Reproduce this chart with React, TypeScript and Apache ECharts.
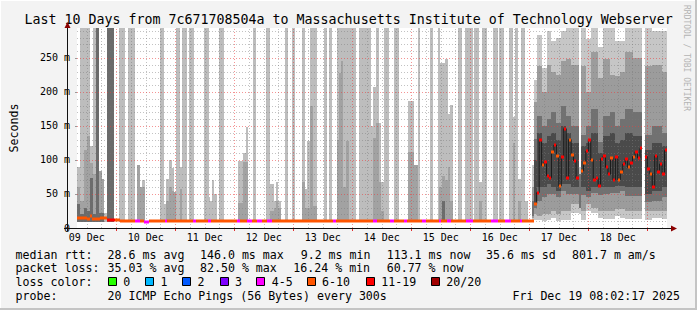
import React, { useEffect, useRef } from "react";
import * as echarts from "echarts";

// ---------------- data (hours after graph start Dec 9 08:02:17; values in ms) ----------------
const TITLE = "Last 10 Days from 7c671708504a to Massachusetts Institute of Technology Webserver";
const dayLabels = ["09 Dec", "10 Dec", "11 Dec", "12 Dec", "13 Dec", "14 Dec", "15 Dec", "16 Dec", "17 Dec", "18 Dec"];
const firstNoon = 3.962; // Dec 9 12:00 in hours after start
const firstMidnight = 15.962; // Dec 10 00:00
const yTickValues = [0, 50, 100, 150, 200, 250]; // ms
const yMaxMs = 294;

// sparse smoke, first 7.5 days: [startH, endH, topMs]
const smokeLight = [
  [0, 1.2, 90], [1.2, 5.2, 300], [5.2, 6.4, 120], [6.4, 7.6, 300], [10.8, 12.4, 22],
  [17.2, 19.6, 300], [20.8, 23.6, 300], [26.4, 27.6, 70], [33.6, 35.2, 300], [35.2, 36.4, 35],
  [36.4, 37.6, 72], [37.6, 38.8, 100], [38.8, 39.6, 88], [40.4, 42, 300], [42, 42.8, 89],
  [42.8, 44.8, 300], [45.6, 47.6, 300], [51.6, 53.6, 300], [53.6, 54, 45], [54, 54.8, 40],
  [54.8, 55.6, 70], [55.6, 56.8, 50], [57.6, 59.6, 300], [65.6, 67.6, 98], [67.6, 68.8, 110],
  [68.8, 69.6, 148], [71.6, 72.8, 300], [76.8, 78.4, 300], [78.4, 80, 64], [80, 80.8, 40],
  [80.8, 81.6, 67], [81.6, 82.8, 40], [84.8, 86, 300], [87.6, 88.8, 300], [91.6, 92.8, 300],
  [92.8, 93.6, 58], [93.6, 94.8, 128], [94.8, 97.6, 300], [100.4, 101.6, 300], [102.4, 103.6, 300],
  [105.6, 113.6, 300], [114.8, 119.6, 300], [119.6, 120.4, 150], [120.4, 121.6, 207], [121.6, 122.8, 300],
  [122.8, 123.6, 155], [123.6, 124.8, 68], [124.8, 126.8, 300], [128.8, 130.8, 300], [134.8, 137.2, 186],
  [138.8, 139.6, 300], [143.6, 144.8, 300], [146.8, 147.6, 300], [147.6, 149.6, 242], [149.6, 150.8, 249],
  [150.8, 151.6, 167], [151.6, 152.8, 181], [154.8, 156.8, 300], [158, 161.2, 300], [161.6, 163.6, 300],
  [163.6, 164.8, 67], [164.8, 166.8, 300], [169.2, 171.2, 300], [171.6, 173.6, 300], [175.6, 177.2, 300],
  [177.2, 178, 163], [178, 179.2, 300], [179.2, 180.8, 72], [180.8, 182.4, 300], [182.4, 183.6, 40],
];
const smokeMid = [
  [0, 1.2, 60], [1.2, 2.8, 40], [2.8, 4, 115], [4, 5.2, 135], [5.2, 6.4, 95], [6.4, 7.6, 80],
  [8.8, 10, 84], [10, 10.8, 72], [24.4, 25.6, 93], [25.6, 27.6, 61], [36.4, 37.6, 40], [37.6, 38.8, 60],
  [38.8, 39.6, 55], [39.6, 40.4, 53], [42, 42.8, 58], [65.6, 67.6, 37], [67.6, 69.6, 97], [78.4, 80, 25],
  [80, 80.8, 30], [80.8, 81.6, 40], [81.6, 82.8, 30], [91.6, 92.8, 67], [92.8, 94.8, 30], [94.8, 96, 180],
  [96, 97.6, 33], [105.6, 106.4, 130], [106.4, 107.2, 228], [107.2, 108, 245], [108, 109.6, 60],
  [109.6, 110.8, 128], [120.4, 121.6, 133], [121.6, 122.8, 155], [122.8, 123.6, 68], [123.6, 124.8, 25],
  [134.8, 137.2, 111], [137.2, 138.8, 92], [147.2, 148.4, 60], [148.4, 149.6, 77], [149.6, 150.8, 70],
  [150.8, 151.6, 90], [151.6, 152.8, 40], [163.6, 164.8, 40], [177.2, 178, 125], [179.2, 180.8, 40],
];
const smokeDark = [
  [0, 1.2, 35], [1.2, 2.8, 20], [2.8, 4, 30], [4, 5.2, 25], [5.2, 6.4, 73], [6.4, 7.6, 20],
  [7.6, 8.8, 300], [8.8, 10.8, 22], [12.4, 15.2, 300], [148.4, 149.6, 40],
];

// dense smoke, last 2.3 days: [startH, endH, loMs, hiMs]
const denseLight = [
  [185, 186, 10, 92], [186, 187, 12, 217], [187, 189, 12, 283], [189, 191, 10, 235], [191, 193, 12, 290],
  [193, 195, 14, 275], [195, 197, 10, 280], [197, 199, 12, 290], [199, 201, 12, 296], [201, 204, 22, 296],
  [204, 205, 20, 90], [205, 207, 12, 296], [207, 209, 25, 278], [209, 212, 22, 296], [212, 214, 14, 266],
  [214, 217, 13, 296], [217, 219, 13, 296], [219, 221, 18, 275], [221, 223, 15, 275], [223, 226, 13, 296],
  [226, 230, 13, 296], [231, 234, 12, 296], [234, 236, 14, 290], [236, 238, 14, 290], [238, 240, 13, 290],
];
const denseMid = [
  [185, 186, 14, 60], [186, 187, 20, 185], [187, 189, 18, 238], [189, 191, 20, 200], [191, 193, 20, 240],
  [193, 195, 25, 230], [195, 197, 20, 225], [197, 199, 25, 245], [199, 201, 25, 248], [201, 204, 35, 240],
  [205, 207, 25, 238], [207, 209, 35, 200], [209, 212, 30, 258], [212, 214, 25, 220],
  [214, 217, 25, 248], [217, 219, 25, 225], [219, 221, 28, 224], [221, 223, 28, 230], [223, 226, 25, 258],
  [226, 230, 25, 250], [231, 234, 25, 238], [234, 236, 25, 240], [236, 238, 25, 240], [238, 240, 25, 230],
];
const denseDark = [
  [185, 186, 18, 40], [186, 187, 30, 131], [187, 189, 40, 165], [189, 191, 45, 150], [191, 193, 50, 160],
  [193, 195, 50, 170], [195, 197, 45, 155], [197, 199, 55, 180], [199, 201, 50, 165], [201, 204, 50, 150],
  [204, 205, 30, 80], [205, 207, 48, 136], [207, 209, 45, 150], [209, 212, 52, 175], [212, 214, 48, 126],
  [214, 217, 50, 165], [217, 219, 52, 170], [219, 221, 52, 150], [221, 223, 55, 160], [223, 226, 47, 175],
  [226, 230, 47, 170], [231, 234, 38, 136], [234, 236, 40, 150], [236, 238, 40, 150], [238, 240, 45, 140],
];
const denseCore = [
  [186, 187, 35, 100], [187, 189, 60, 140], [189, 191, 60, 125], [191, 193, 65, 135], [193, 195, 60, 140],
  [195, 197, 55, 130], [197, 199, 65, 150], [199, 201, 65, 140], [201, 204, 60, 125], [205, 207, 60, 120],
  [207, 209, 55, 125], [209, 212, 60, 140], [212, 214, 60, 110], [214, 217, 60, 135], [217, 219, 60, 140],
  [219, 221, 62, 125], [221, 223, 62, 130], [223, 226, 60, 140], [226, 230, 60, 135], [231, 234, 50, 115],
  [234, 236, 55, 125], [236, 238, 55, 125], [238, 240, 60, 120],
];

// median rtt, first part as runs: [startH, endH, ms, lostPings]
const earlyMedian = [
  [0, 2, 15, 8], [2, 4, 14, 8], [4, 5.2, 13, 8], [5.2, 6, 18, 8], [6, 9.2, 13, 8], [9.2, 12.4, 14, 8],
  [12.4, 15.6, 12, 14], [15.6, 17.6, 12, 8], [17.6, 23.6, 10.5, 8], [23.6, 25.6, 10, 5], [25.6, 27.2, 10.5, 8],
  [27.2, 29.2, 9.5, 5], [29.2, 35.6, 10.5, 8], [35.6, 36.8, 10, 5], [36.8, 47.2, 10.5, 8], [47.2, 48.4, 10, 5],
  [48.4, 53.2, 10.5, 8], [53.2, 54.4, 10, 5], [54.4, 65.2, 10.5, 8], [65.2, 66.4, 10, 5], [66.4, 69.2, 10.5, 8],
  [69.2, 71.2, 10, 5], [71.2, 73.2, 10.5, 8], [73.2, 75.2, 10, 5], [75.2, 77.2, 10.5, 8], [77.2, 79.2, 10, 5],
  [79.2, 104, 10.5, 8], [104, 105.2, 10, 5], [105.2, 120.4, 10.5, 8], [120.4, 122, 10, 5], [122, 127.2, 10.5, 8],
  [127.2, 128.8, 10, 5], [128.8, 133.2, 10.5, 8], [133.2, 134.4, 10, 5], [134.4, 140.4, 10.5, 8], [140.4, 142, 10, 5],
  [142, 147.2, 10.5, 8], [147.2, 148, 10, 5], [148, 150.4, 10.5, 8], [150.4, 152, 10, 5], [152, 158.4, 10.5, 8],
  [158.4, 161.2, 10, 5], [161.2, 168.4, 10.5, 8], [168.4, 171.2, 10, 5], [171.2, 174, 10.5, 8], [174, 176.4, 10, 5],
  [176.4, 180, 10.5, 8], [180, 181.2, 10, 5], [181.2, 186, 10.5, 8],
];
// hourly medians from hour 186 on
const denseStart = 186;
const denseMedian = [
  36, 52, 130, 92, 97, 77, 74, 112, 122, 106, 62, 105, 146, 74, 130, 108, 99, 73, null,
  84, 96, 113, 130, 100, 71, 73, 62, 102, 106, 89, 79, 103, 71, 105, 71, 82, 94, 102, 89, 96, 105, 112, 103, 117, null,
  105, 86, 80, 61, 106, 83, 94, 80, 114,
];
const denseLoss = [
  8, 14, 14, 8, 14, 14, 14, 8, 14, 8, 8, 14, 14, 14, 8, 8, 14, 14, null,
  8, 8, 14, 14, 8, 14, 14, 14, 14, 14, 14, 14, 8, 14, 14, 8, 8, 14, 14, 8, 14, 8, 14, 14, 14, null,
  14, 14, 8, 14, 14, 14, 14, 14, 14,
];

const lossLegend = [
  ["0", "#26ff00"], ["1", "#00b8ff"], ["2", "#0059ff"], ["3", "#7e00ff"],
  ["4-5", "#ff00ff"], ["6-10", "#ff5500"], ["11-19", "#ff0000"], ["20/20", "#a10000"],
];
const medianStats = ["median rtt:", "28.6 ms avg", "146.0 ms max", "9.2 ms min", "113.1 ms now", "35.6 ms sd", "801.7 m am/s"];
const lossStats = ["packet loss:", "35.03 % avg", "82.50 % max", "16.24 % min", "60.77 % now"];
const probeText = ["probe:", "20 ICMP Echo Pings (56 Bytes) every 300s"];
const dateText = "Fri Dec 19 08:02:17 2025";
const sideText = "RRDTOOL / TOBI OETIKER";

// ---------------- layout ----------------
const W = 697, H = 310;
const PL = 67, PT = 28, PR = 667, PB = 228;
const MONO = '"DejaVu Sans Mono", monospace';

function lossColor(l: number) {
  if (l <= 0) return lossLegend[0][1];
  if (l === 1) return lossLegend[1][1];
  if (l === 2) return lossLegend[2][1];
  if (l === 3) return lossLegend[3][1];
  if (l <= 5) return lossLegend[4][1];
  if (l <= 10) return lossLegend[5][1];
  if (l <= 19) return lossLegend[6][1];
  return lossLegend[7][1];
}

function rectSeries(name: string, data: number[][], color: string, z: number) {
  return {
    type: "custom",
    name,
    z,
    silent: true,
    clip: true,
    itemStyle: { color },
    encode: { x: [0, 1], y: [2, 3] },
    data,
    renderItem: (params: any, api: any) => {
      const p0 = api.coord([api.value(0), api.value(3)]);
      const p1 = api.coord([api.value(1), api.value(2)]);
      const cs = params.coordSys;
      const x0 = Math.round(Math.max(p0[0], cs.x));
      const x1 = Math.round(Math.min(p1[0], cs.x + cs.width));
      const y0 = Math.round(Math.max(p0[1], cs.y));
      const y1 = Math.round(Math.min(p1[1], cs.y + cs.height));
      if (x1 <= x0 || y1 <= y0) return null;
      return { type: "rect", shape: { x: x0, y: y0, width: x1 - x0, height: y1 - y0 }, style: { fill: color } };
    },
  };
}

export default function App() {
  const ref = useRef<HTMLDivElement>(null);
  useEffect(() => {
    if (!ref.current) return;
    const chart = echarts.init(ref.current, undefined, { renderer: "svg", width: W, height: H });
    const base = 8.5;
    const toSec = (v: number) => v / 1000;
    const early = (arr: number[][]) => arr.map((d) => [d[0], d[1], toSec(base), toSec(Math.min(d[2], yMaxMs))]);
    const dense = (arr: number[][]) => arr.map((d) => [d[0], d[1], toSec(d[2]), toSec(Math.min(d[3], yMaxMs))]);

    const medianRects: any[] = earlyMedian.map((d) => [d[0], d[1], toSec(d[2]), d[3]]);
    const connector: any[] = [];
    denseMedian.forEach((v, i) => {
      const t = denseStart + i;
      if (v == null) {
        connector.push([t + 0.5, null]);
      } else {
        medianRects.push([t, t + 1, toSec(v), denseLoss[i]]);
        connector.push([t + 0.5, toSec(v)]);
      }
    });

    // grid lines: [orientation (0 vertical, 1 horizontal), value, major]
    const gridLines: number[][] = [];
    for (let j = 0; j < 40; j++) {
      const v = firstNoon + 6 * j;
      if (v > 240) break;
      gridLines.push([0, v, (j - 2) % 4 === 0 ? 1 : 0]);
    }
    for (let m = 10; m < yMaxMs; m += 10) {
      gridLines.push([1, toSec(m), m % 50 === 0 ? 1 : 0]);
    }

    const midnights = dayLabels.map((_, k) => firstMidnight + 24 * k).filter((v) => v < 240);
    const noons = dayLabels.map((_, k) => firstNoon + 24 * k);

    const textStyleBase = { fill: "#000", fontFamily: MONO, fontSize: 11.6, verticalAlign: "middle" };
    const rowY = [254.7, 268.3, 282, 295.6];
    const medX = [15.6, 107.6, 200, 300.7, 386.7, 486, 572];
    const lossX = [15.6, 107.6, 200, 293.3, 386.7];
    const boxX = [108, 145.3, 182.2, 219.6, 256.4, 306.7, 366, 431];

    const graphics: any[] = [
      { type: "line", shape: { x1: 0, y1: 0.5, x2: W, y2: 0.5 }, style: { stroke: "#ffffff", lineWidth: 1 } },
      { type: "line", shape: { x1: 0.5, y1: 0, x2: 0.5, y2: H }, style: { stroke: "#ffffff", lineWidth: 1 } },
      { type: "line", shape: { x1: 0, y1: H - 1, x2: W, y2: H - 1 }, style: { stroke: "#c4c4c4", lineWidth: 2 } },
      { type: "line", shape: { x1: W - 1, y1: 0, x2: W - 1, y2: H }, style: { stroke: "#c4c4c4", lineWidth: 2 } },
      { type: "text", x: 24.4, y: 19, style: { ...textStyleBase, text: TITLE, fontSize: 13.3 } },
      {
        type: "text", x: 686, y: 5, rotation: -Math.PI / 2,
        style: { text: sideText, fill: "#b4b4b4", fontFamily: MONO, fontSize: 8, align: "left", verticalAlign: "middle" },
      },
      { type: "line", z: 100, shape: { x1: PL - 3, y1: PB + 0.5, x2: PR + 6, y2: PB + 0.5 }, style: { stroke: "#111", lineWidth: 1 } },
      { type: "line", z: 100, shape: { x1: PL + 0.5, y1: PB + 3, x2: PL + 0.5, y2: PT - 4 }, style: { stroke: "#111", lineWidth: 1 } },
      { type: "polygon", z: 101, shape: { points: [[PR + 4, PB - 2.5], [PR + 4, PB + 3.5], [PR + 10, PB + 0.5]] }, style: { fill: "#8b0000" } },
      { type: "polygon", z: 101, shape: { points: [[PL - 2.5, PT], [PL + 3.5, PT], [PL + 0.5, PT - 6]] }, style: { fill: "#8b0000" } },
    ];
    medianStats.forEach((t, i) => graphics.push({ type: "text", x: medX[i], y: rowY[0], style: { ...textStyleBase, text: t } }));
    lossStats.forEach((t, i) => graphics.push({ type: "text", x: lossX[i], y: rowY[1], style: { ...textStyleBase, text: t } }));
    graphics.push({ type: "text", x: 15.6, y: rowY[2], style: { ...textStyleBase, text: "loss color:" } });
    lossLegend.forEach(([label, color], i) => {
      graphics.push({
        type: "rect", shape: { x: Math.round(boxX[i]) + 0.5, y: rowY[2] - 4.5, width: 8, height: 8 },
        style: { fill: color, stroke: "#000", lineWidth: 1 },
      });
      graphics.push({ type: "text", x: boxX[i] + 15.3, y: rowY[2], style: { ...textStyleBase, text: label } });
    });
    graphics.push({ type: "text", x: 15.6, y: rowY[3], style: { ...textStyleBase, text: probeText[0] } });
    graphics.push({ type: "text", x: 107.6, y: rowY[3], style: { ...textStyleBase, text: probeText[1] } });
    graphics.push({ type: "text", x: 680, y: rowY[3], style: { ...textStyleBase, text: dateText, align: "right" } });

    const option: any = {
      animation: false,
      color: ["rgba(0,0,0,0)"],
      backgroundColor: "#f3f3f3",
      textStyle: { fontFamily: MONO },
      grid: { left: PL, top: PT, width: PR - PL, height: PB - PT, show: true, backgroundColor: "#ffffff", borderWidth: 0 },
      xAxis: {
        type: "value",
        min: 0,
        max: 240,
        axisLine: { show: false },
        splitLine: { show: false },
        axisTick: { show: true, customValues: midnights, length: 3, lineStyle: { color: "#e03030" } },
        axisLabel: {
          customValues: noons,
          margin: 4,
          fontSize: 10,
          color: "#000",
          fontFamily: MONO,
          formatter: (v: number) => dayLabels[Math.round((v - firstNoon) / 24)] || "",
        },
      },
      yAxis: {
        type: "value",
        min: 0,
        max: toSec(yMaxMs),
        interval: 0.05,
        name: "Seconds",
        nameLocation: "middle",
        nameRotate: 90,
        nameGap: 57,
        nameTextStyle: { fontSize: 11.6, color: "#000", fontFamily: MONO },
        axisLine: { show: false },
        splitLine: { show: false },
        axisTick: { show: true, length: 2, lineStyle: { color: "#999999", width: 1 } },
        axisLabel: {
          showMaxLabel: false,
          margin: 7,
          fontSize: 10,
          color: "#000",
          fontFamily: MONO,
          formatter: (v: number) => {
            const ms = Math.round(v * 1000);
            return yTickValues.includes(ms) ? (ms === 0 ? "0" : `${ms} m`) : "";
          },
        },
      },
      series: [
        rectSeries("smokeLight", early(smokeLight), "#bdbdbd", 2),
        rectSeries("smokeMid", early(smokeMid), "#a2a2a2", 3),
        rectSeries("smokeDark", early(smokeDark), "#6b6b6b", 4),
        rectSeries("denseLight", dense(denseLight), "#c6c6c6", 2),
        rectSeries("denseMid", dense(denseMid), "#9c9c9c", 3),
        rectSeries("denseDark", dense(denseDark), "#717171", 4),
        rectSeries("denseCore", dense(denseCore), "#4a4a4a", 4),
        {
          type: "custom",
          name: "grid",
          z: 5,
          silent: true,
          clip: false,
          data: gridLines,
          renderItem: (params: any, api: any) => {
            const vertical = api.value(0) === 0;
            const v = api.value(1);
            const major = api.value(2) === 1;
            const a = vertical ? api.coord([v, 0]) : api.coord([0, v]);
            const b = vertical ? api.coord([v, yMaxMs / 1000]) : api.coord([240, v]);
            const ax = vertical ? Math.round(a[0]) + 0.5 : a[0];
            const bx = vertical ? Math.round(b[0]) + 0.5 : b[0];
            const ay = vertical ? a[1] : Math.round(a[1]) + 0.5;
            const by = vertical ? b[1] : Math.round(b[1]) + 0.5;
            return {
              type: "line",
              shape: { x1: ax, y1: ay, x2: bx, y2: by },
              style: {
                stroke: major ? "rgba(235,60,60,0.55)" : "rgba(120,120,120,0.45)",
                lineWidth: 1,
                lineDash: [1, 2],
              },
            };
          },
        },
        {
          type: "line",
          name: "connector",
          z: 8,
          silent: true,
          data: connector,
          step: "middle",
          showSymbol: false,
          symbol: "none",
          connectNulls: false,
          lineStyle: { color: "#1a1a1a", width: 1 },
        },
        {
          type: "custom",
          name: "median",
          z: 10,
          silent: true,
          clip: true,
          encode: { x: [0, 1], y: 2 },
          data: medianRects,
          renderItem: (params: any, api: any) => {
            const p0 = api.coord([api.value(0), api.value(2)]);
            const p1 = api.coord([api.value(1), api.value(2)]);
            const x0 = Math.round(p0[0]);
            const x1 = Math.round(p1[0]);
            const y = Math.round(p0[1]) - 1.5;
            return {
              type: "rect",
              shape: { x: x0, y, width: Math.max(1, x1 - x0), height: 3 },
              style: { fill: lossColor(api.value(3)) },
            };
          },
        },
      ],
      graphic: graphics,
    };
    chart.setOption(option);
    return () => chart.dispose();
  }, []);
  return <div ref={ref} style={{ position: "fixed", left: 0, top: 0, width: W, height: H }} />;
}
